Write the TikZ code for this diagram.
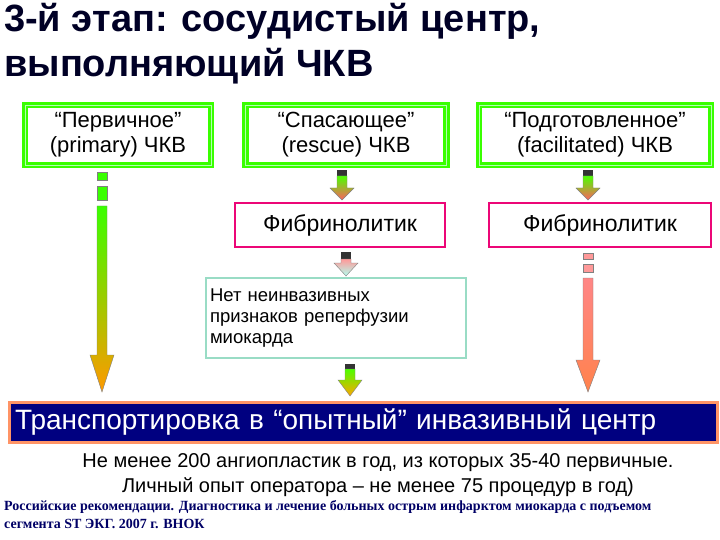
\documentclass[tikz,border=0pt]{standalone}
\usepackage{fontspec}
\setmainfont{Liberation Sans}
\newfontfamily\serifb{Liberation Serif}
\begin{document}
\begin{tikzpicture}[x=1pt,y=-1pt,
  gbox/.style={draw=green!70!lime, line width=3pt, fill=white, minimum height=60pt, align=center, font=\fontsize{22}{25}\selectfont, double=green!30!white, double distance=0.8pt},
  mbox/.style={draw=magenta!80!red, line width=1.5pt, fill=white, minimum height=44pt, font=\fontsize{23}{26}\selectfont}]
\useasboundingbox (0,0) rectangle (720,540);
\fill[white] (0,0) rectangle (720,540);
\newcommand\varr[6]{% x, ytop, yshaftend, ybot, topcol, botcol
  \shade[top color=#5, bottom color=#6, draw=black!50, line width=0.4pt]
   (#1-5,#2) -- (#1+5,#2) -- (#1+5,#3) -- (#1+12,#3) -- (#1,#4) -- (#1-12,#3) -- (#1-5,#3) -- cycle;}
% title
\node[anchor=north west, align=left, inner sep=0pt, font=\fontsize{38}{45}\selectfont\bfseries, text=black!85!blue] (title) at (4,3) {3-й этап: сосудистый центр,\\выполняющий ЧКВ};
% top boxes
\node[gbox, minimum width=186pt] (b1) at (118,135) {“Первичное”\\(primary) ЧКВ};
\node[gbox, minimum width=201pt] (b2) at (346,135) {“Спасающее”\\(rescue) ЧКВ};
\node[gbox, minimum width=232pt] (b3) at (595,135) {“Подготовленное”\\(facilitated) ЧКВ};
\node[mbox, minimum width=210pt] (f1) at (340,225) {Фибринолитик};
\node[mbox, minimum width=222pt] (f2) at (600,225) {Фибринолитик};
\node[draw=cyan!40!green!40, line width=2pt, fill=white, minimum width=260pt, minimum height=80pt, align=left, text width=252pt, font=\fontsize{18.5}{21}\selectfont] (c1) at (336,318) {Нет неинвазивных\\признаков реперфузии\\миокарда};
\node[draw=orange!60!red!60, line width=3pt, fill=blue!50!black, minimum width=708pt, minimum height=40pt, text width=696pt, align=left, text=white, font=\fontsize{28}{32}\selectfont] (bar) at (363,422) {Транспортировка в “опытный” инвазивный центр};
% arrows
\fill[green!70!lime, draw=black!50] (97,172) rectangle (107,180);
\fill[green!70!lime, draw=black!50] (97,186) rectangle (107,200);
\varr{102}{206}{355}{392}{green!70!lime}{orange!80!yellow}
\fill[black!80] (337,170) rectangle (347,176);
\varr{342}{176}{188}{200}{green!60!lime}{red!50!pink}
\fill[black!80] (341,252) rectangle (351,259);
\varr{346}{259}{263}{276}{pink!80!red}{green!20!cyan!30}
\fill[black!80] (345,364) rectangle (355,369);
\varr{350}{369}{380}{396}{green!60!lime}{orange!70!yellow}
\fill[black!80] (583,170) rectangle (593,176);
\varr{588}{176}{188}{200}{green!60!lime}{red!50!pink}
\fill[pink!80!red, draw=black!50] (583,253) rectangle (593,259);
\fill[pink!80!red, draw=black!50] (583,264) rectangle (593,272);
\varr{588}{278}{360}{392}{pink!70!red}{orange!60!red!70}
% bottom text
\node[align=center, font=\fontsize{20}{25}\selectfont] (t1) at (378,475) {Не менее 200 ангиопластик в год, из которых 35-40 первичные.\\Личный опыт оператора -- не менее 75 процедур в год)};
\node[anchor=north west, align=left, inner sep=0pt, text=blue!40!black, font=\serifb\bfseries\fontsize{14}{18}\selectfont] (ref) at (4,500) {Российские рекомендации. Диагностика и лечение больных острым инфарктом миокарда с подъемом\\сегмента ST ЭКГ. 2007 г. ВНОК};
\end{tikzpicture}
\end{document}
